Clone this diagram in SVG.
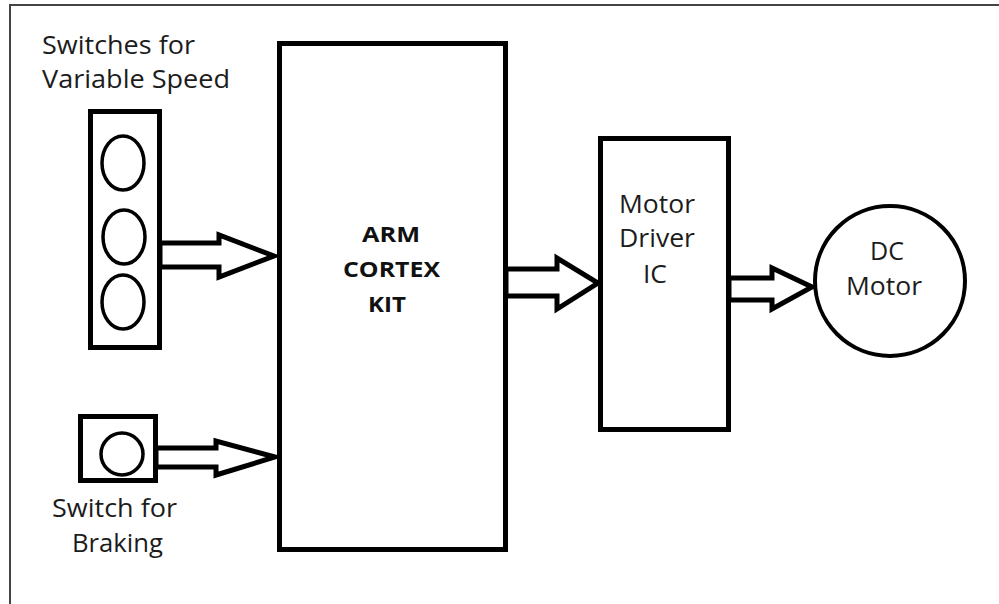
<svg xmlns="http://www.w3.org/2000/svg" width="999" height="604" viewBox="0 0 999 604">
<style>
.box{fill:#fff;stroke:#000;stroke-width:5}
.sw{fill:none;stroke:#000;stroke-width:3.5}
.arr{fill:#fff;stroke:#000;stroke-width:5;stroke-linejoin:miter}
.lbl{font-family:"Open Sans","Noto Sans",sans-serif;font-size:25px;fill:#1c1c1c}
.bold{font-family:"Open Sans","Noto Sans",sans-serif;font-size:22px;font-weight:bold;fill:#111}
</style>
<rect width="999" height="604" fill="#fff"/>
<path d="M10 604 V5 H999" fill="none" stroke="#444" stroke-width="2"/>
<g id="connectors">
<polygon class="arr" points="160,243 219,243 219,235 274,256 219,277 219,267 160,267"/>
<polygon class="arr" points="156,448 216,448 216,441 275,457 216,475 216,467 156,467"/>
<polygon class="arr" points="506,269 557,269 557,258 598,283 557,309 557,296 506,296"/>
<polygon class="arr" points="729,278 772,278 772,268 812,287 772,309 772,300 729,300"/>
</g>
<g id="switches-speed">
<rect class="box" x="90.5" y="111.5" width="69" height="236"/>
<ellipse class="sw" cx="123" cy="163" rx="21" ry="27"/>
<ellipse class="sw" cx="124" cy="237" rx="21" ry="27"/>
<ellipse class="sw" cx="123" cy="302" rx="21" ry="27"/>
<text class="lbl" x="42" y="54" textLength="153" lengthAdjust="spacingAndGlyphs">Switches for</text>
<text class="lbl" x="42" y="88" textLength="188" lengthAdjust="spacingAndGlyphs">Variable Speed</text>
</g>
<g id="switch-brake">
<rect class="box" x="80.5" y="416.5" width="75" height="64"/>
<circle class="sw" cx="122" cy="454" r="21"/>
<text class="lbl" x="52" y="517" textLength="125" lengthAdjust="spacingAndGlyphs">Switch for</text>
<text class="lbl" x="72" y="552" textLength="91" lengthAdjust="spacingAndGlyphs">Braking</text>
</g>
<g id="arm">
<rect class="box" x="279.5" y="43.5" width="226" height="506"/>
<text class="bold" x="362" y="242" textLength="58" lengthAdjust="spacingAndGlyphs">ARM</text>
<text class="bold" x="343" y="277" textLength="97" lengthAdjust="spacingAndGlyphs">CORTEX</text>
<text class="bold" x="368" y="312" textLength="38" lengthAdjust="spacingAndGlyphs">KIT</text>
</g>
<g id="driver">
<rect class="box" x="600.5" y="138.5" width="128" height="291"/>
<text class="lbl" x="619" y="213" textLength="76" lengthAdjust="spacingAndGlyphs">Motor</text>
<text class="lbl" x="619" y="247" textLength="76" lengthAdjust="spacingAndGlyphs">Driver</text>
<text class="lbl" x="643" y="283" textLength="24" lengthAdjust="spacingAndGlyphs">IC</text>
</g>
<g id="motor">
<circle cx="890" cy="281" r="75" fill="#fff" stroke="#000" stroke-width="4"/>
<text class="lbl" x="870" y="260" textLength="34" lengthAdjust="spacingAndGlyphs">DC</text>
<text class="lbl" x="846" y="295" textLength="76" lengthAdjust="spacingAndGlyphs">Motor</text>
</g>
</svg>
